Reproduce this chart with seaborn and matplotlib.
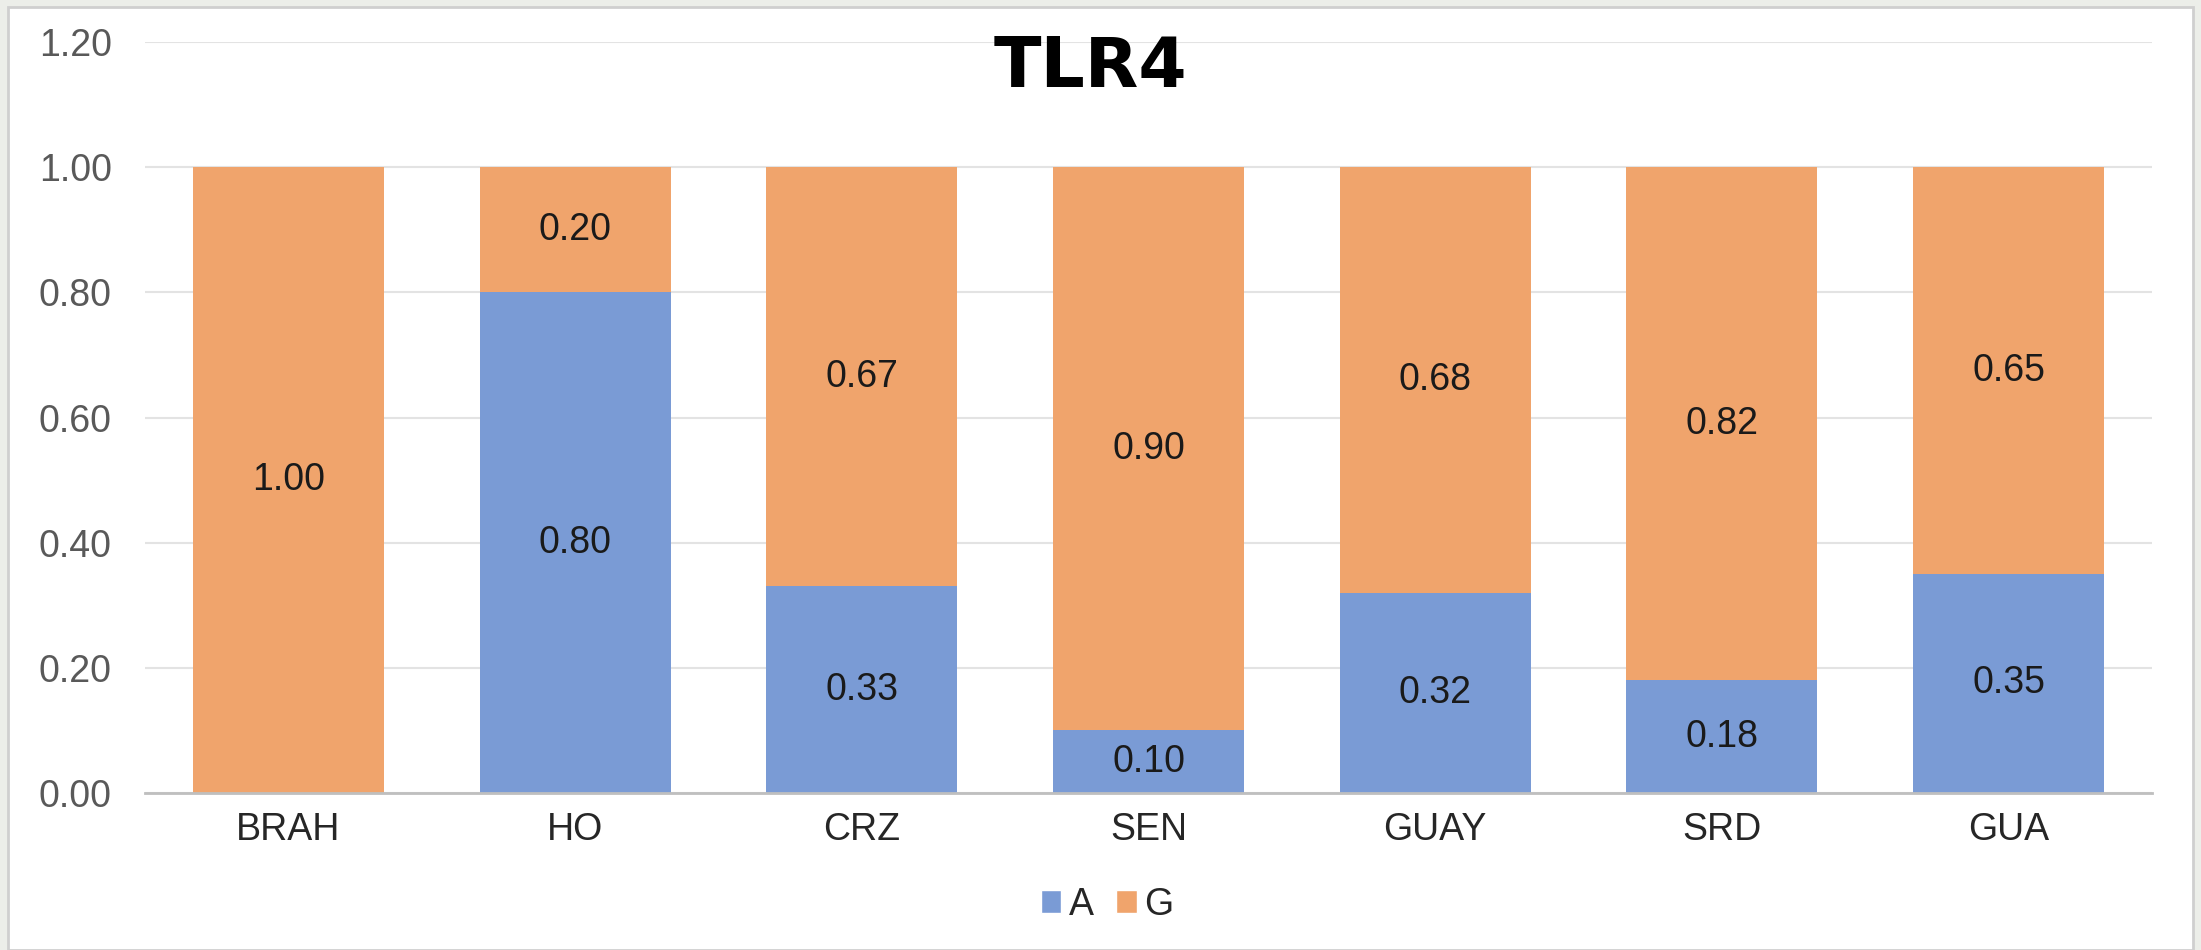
import matplotlib
matplotlib.use('Agg')
import matplotlib.pyplot as plt
from matplotlib.patches import Patch, Rectangle
import seaborn as sns
import numpy as np

# data
categories = ['BRAH', 'HO', 'CRZ', 'SEN', 'GUAY', 'SRD', 'GUA']
allele_a = [0.00, 0.80, 0.33, 0.10, 0.32, 0.18, 0.35]
allele_g = [1.00, 0.20, 0.67, 0.90, 0.68, 0.82, 0.65]
y_ticks = [0.0, 0.2, 0.4, 0.6, 0.8, 1.0, 1.2]

blue = '#7A9BD5'
orange = '#F0A46C'

sns.set_theme(style='white')
plt.rcParams['font.family'] = ['Liberation Sans', 'DejaVu Sans']

fig = plt.figure(figsize=(22.01, 9.5), dpi=100)
fig.patch.set_facecolor('#ECEEE9')

# white chart panel with thin grey border
panel = Rectangle((8 / 2201, 0), (2193 - 8) / 2201, 1 - 7 / 950,
                  transform=fig.transFigure, facecolor='white',
                  edgecolor='#CFCFCF', linewidth=2, zorder=-10)
fig.patches.append(panel)

ax = fig.add_axes([145 / 2201, 157 / 950, 2007 / 2201, 751 / 950])
ax.set_facecolor('none')

totals = np.array(allele_a) + np.array(allele_g)
sns.barplot(x=categories, y=totals, color=orange, width=0.666, saturation=1,
            errorbar=None, linewidth=0, ax=ax)
sns.barplot(x=categories, y=allele_a, color=blue, width=0.666, saturation=1,
            errorbar=None, linewidth=0, ax=ax)

# segment labels
for i, (a, g) in enumerate(zip(allele_a, allele_g)):
    if a > 0:
        ax.text(i, a / 2, f'{a:.2f}', ha='center', va='center',
                fontsize=27, color='#1A1A1A')
    if g > 0:
        ax.text(i, a + g / 2, f'{g:.2f}', ha='center', va='center',
                fontsize=27, color='#1A1A1A')

ax.set_ylim(0, 1.2)
ax.set_xlim(-0.5, len(categories) - 0.5)
ax.set_yticks(y_ticks)
ax.set_yticklabels([f'{t:.2f}' for t in y_ticks])
ax.yaxis.grid(True, color='#E3E3E3', linewidth=1.5)
ax.set_axisbelow(True)
for s in ['top', 'right', 'left']:
    ax.spines[s].set_visible(False)
ax.spines['bottom'].set_color('#BFBFBF')
ax.spines['bottom'].set_linewidth(2)
ax.tick_params(axis='y', length=0, pad=24, labelsize=27, labelcolor='#595959')
ax.tick_params(axis='x', length=0, pad=14, labelsize=27, labelcolor='#262626')
ax.set_xlabel('')
ax.set_ylabel('')

fig.text(1090 / 2201, 1 - 87 / 950, 'TLR4', ha='center', va='baseline',
         fontsize=50, fontweight='bold', color='black',
         family=['DejaVu Sans'])

handles = [Patch(facecolor=blue, label='A'), Patch(facecolor=orange, label='G')]
fig.legend(handles=handles, loc='center', bbox_to_anchor=(1107 / 2201, 1 - 905 / 950),
           ncol=2, frameon=False, fontsize=27, handlelength=0.55, handleheight=0.55,
           handletextpad=0.2, columnspacing=0.6)

fig.savefig('out.png', dpi=100, facecolor=fig.get_facecolor())
